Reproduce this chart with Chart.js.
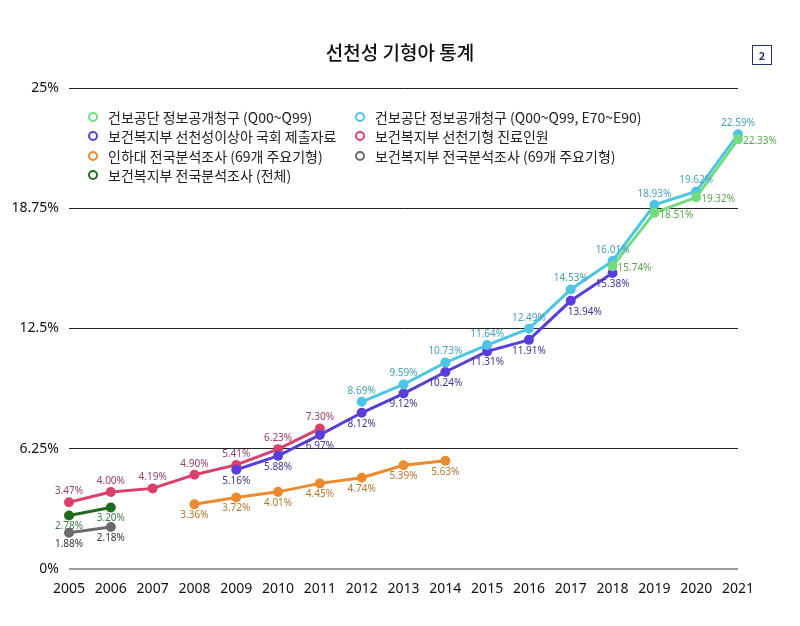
<!DOCTYPE html>
<html>
<head>
<meta charset="utf-8">
<script src="https://cdn.jsdelivr.net/npm/chart.js@4"></script>
<style>
  html, body { margin: 0; padding: 0; background: #fff; }
  #wrap { position: relative; width: 800px; height: 626px; font-family: "Noto Sans CJK KR", "Noto Sans", sans-serif; }
  #title { position: absolute; left: 0; width: 800px; top: 38px; text-align: center; font-size: 19px; font-weight: 500; color: #111; }
  #badge { position: absolute; left: 752px; top: 45px; width: 18px; height: 18px; border: 1px solid #23306e; color: #23306e; font-size: 11px; font-weight: 700; text-align: center; line-height: 18px; }
  #legend { position: absolute; left: 0; top: 0; }
  .item { position: absolute; font-size: 14px; color: #222; white-space: nowrap; line-height: 16px; }
  .item i { position: absolute; left: -20px; top: 3px; width: 6px; height: 6px; border-radius: 50%; border: 2.5px solid; }
</style>
</head>
<body>
<div id="wrap">
  <canvas id="c" width="800" height="626"></canvas>
  <div id="title">선천성 기형아 통계</div>
  <div id="badge">2</div>
  <div id="legend"></div>
</div>
<script>
// ---- data ----
const years = ['2005','2006','2007','2008','2009','2010','2011','2012','2013','2014','2015','2016','2017','2018','2019','2020','2021'];
const yTicks = [0, 6.25, 12.5, 18.75, 25];

const nhisQ = [null,null,null,null,null,null,null,null,null,null,null,null,null,15.74,18.51,19.32,22.33];
const nhisQE = [null,null,null,null,null,null,null,8.69,9.59,10.73,11.64,12.49,14.53,16.01,18.93,19.62,22.59];
const mohwAssembly = [null,null,null,null,5.16,5.88,6.97,8.12,9.12,10.24,11.31,11.91,13.94,15.38,null,null,null];
const mohwPatients = [3.47,4.00,4.19,4.90,5.41,6.23,7.30,null,null,null,null,null,null,null,null,null,null];
const inha69 = [null,null,null,3.36,3.72,4.01,4.45,4.74,5.39,5.63,null,null,null,null,null,null,null];
const mohw69 = [1.88,2.18,null,null,null,null,null,null,null,null,null,null,null,null,null,null,null];
const mohwAll = [2.78,3.20,null,null,null,null,null,null,null,null,null,null,null,null,null,null,null];

const series = [
  { label: '건보공단 정보공개청구 (Q00~Q99)', data: nhisQ, color: '#72dc7e', text: '#5aa84e', pos: 'right' },
  { label: '건보공단 정보공개청구 (Q00~Q99, E70~E90)', data: nhisQE, color: '#4ec4e6', text: '#4a9fba', pos: 'above' },
  { label: '보건복지부 선천성이상아 국회 제출자료', data: mohwAssembly, color: '#5a3ddb', text: '#3e3590', pos: 'below' },
  { label: '보건복지부 선천기형 진료인원', data: mohwPatients, color: '#d9416c', text: '#9a3d6c', pos: 'above' },
  { label: '인하대 전국분석조사 (69개 주요기형)', data: inha69, color: '#ec8b2e', text: '#b5782f', pos: 'below' },
  { label: '보건복지부 전국분석조사 (69개 주요기형)', data: mohw69, color: '#6b6b6b', text: '#333333', pos: 'below' },
  { label: '보건복지부 전국분석조사 (전체)', data: mohwAll, color: '#1f6b1f', text: '#3f7a44', pos: 'below' }
];

// ---- legend (html, two columns) ----
const legendPos = [[108,109],[375,109],[108,128],[375,128],[108,148],[375,148],[108,167]];
const legendEl = document.getElementById('legend');
series.forEach((s, k) => {
  const d = document.createElement('div');
  d.className = 'item';
  d.style.left = legendPos[k][0] + 'px';
  d.style.top = legendPos[k][1] + 'px';
  d.innerHTML = '<i style="border-color:' + s.color + '"></i>' + s.label;
  legendEl.appendChild(d);
});

// ---- value labels ----
const valueLabels = {
  id: 'valueLabels',
  afterDatasetsDraw(chart) {
    const ctx = chart.ctx;
    ctx.save();
    ctx.font = '10px "Noto Sans", sans-serif';
    chart.data.datasets.forEach((ds, i) => {
      const meta = chart.getDatasetMeta(i);
      const s = series[i];
      ctx.fillStyle = s.text;
      meta.data.forEach((pt, j) => {
        const v = ds.data[j];
        if (v == null) return;
        const txt = v.toFixed(2) + '%';
        let x = pt.x, y = pt.y;
        ctx.textBaseline = 'middle';
        if (s.pos === 'right') { ctx.textAlign = 'left'; x += 5; y += 2; }
        else if (s.pos === 'above') { ctx.textAlign = 'center'; y -= 11; }
        else { ctx.textAlign = 'center'; y += 11; }
        // 2017 label of the assembly series sits to the right
        if (i === 2 && j === 12) { x += 14; }
        ctx.fillText(txt, x, y);
      });
    });
    ctx.restore();
  }
};

new Chart(document.getElementById('c'), {
  type: 'line',
  data: {
    labels: years,
    datasets: series.map(s => ({
      label: s.label,
      data: s.data,
      borderColor: s.color,
      backgroundColor: s.color,
      borderWidth: 3,
      pointRadius: 3.5,
      pointHoverRadius: 3.5,
      tension: 0
    }))
  },
  options: {
    responsive: false,
    animation: false,
    layout: { padding: { top: 88, right: 62, left: 0, bottom: 0 } },
    plugins: { legend: { display: false }, tooltip: { enabled: false } },
    scales: {
      x: {
        grid: { display: false },
        border: { display: false },
        ticks: { color: '#111', font: { size: 14, family: '"Noto Sans", sans-serif' }, padding: 4, maxRotation: 0, autoSkip: false },
        afterFit(scale) { scale.height = 57; }
      },
      y: {
        min: 0, max: 25,
        afterBuildTicks(scale) { scale.ticks = yTicks.map(v => ({ value: v })); },
        grid: {
          drawTicks: false,
          color: c => c.tick && c.tick.value === 0 ? '#9a9a9a' : '#222',
          lineWidth: c => c.tick && c.tick.value === 0 ? 2 : 1
        },
        border: { display: false },
        ticks: { color: '#111', font: { size: 14, family: '"Noto Sans", sans-serif' }, padding: 10, callback: v => v + '%' },
        afterFit(scale) { scale.width = 69; }
      }
    }
  },
  plugins: [valueLabels]
});
</script>
</body>
</html>
